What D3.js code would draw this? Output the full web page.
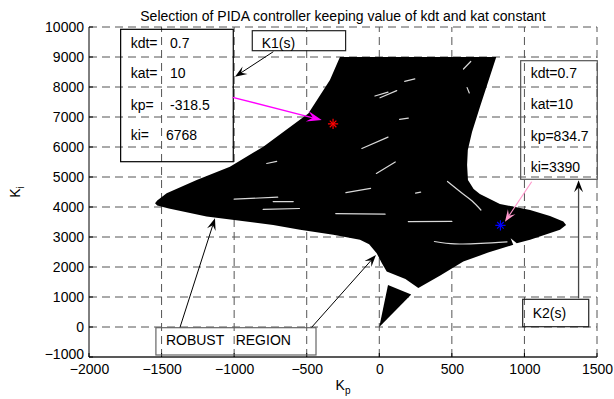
<!DOCTYPE html>
<html><head><meta charset="utf-8">
<script src="https://cdn.jsdelivr.net/npm/d3@7"></script>
<style>
body{margin:0;background:#fff}
svg{display:block}
text{font-family:Arial,"Liberation Sans",sans-serif;fill:#000}
</style>
</head><body>
<svg id="c" width="614" height="399"></svg>
<script>
// ---------- data ----------
const titleText = "Selection of PIDA controller keeping value of kdt and kat constant";
const xTicks = [-2000,-1500,-1000,-500,0,500,1000,1500];
const yTicks = [-1000,0,1000,2000,3000,4000,5000,6000,7000,8000,9000,10000];

// outline of the robust (Kp, Ki) region
const robustRegion = [
  [-271,9000],[806,9000],[694,7345],[639,6500],[610,5900],[605,5400],[611,4900],
  [650,4600],[693,4436],[831,4103],[1039,3904],[1176,3704],[1268,3514],[1287,3404],
  [1245,3238],[1039,2905],[947,2795],[905,2960],[923,2739],[750,2480],[579,2183],
  [420,1720],[269,1298],[180,1600],[51,1850],[17,2130],[-18,2462],[-70,2760],
  [-133,2905],[-317,3072],[-546,3238],[-731,3404],[-1190,3680],[-1450,3950],
  [-1530,4050],[-1545,4126],[-1530,4220],[-1465,4459],[-1258,4900],[-1029,5344],
  [-799,6010],[-489,7120],[-340,8230]
];
const robustTriangle = [[0,0],[60,1400],[220,1080]];

// white gaps inside the region
const whiteStreaks = [
  [[5,7640],[120,7880]],
  [[-120,5950],[60,6330]],
  [[-20,5120],[110,5500]],
  [[-230,4480],[-60,4620]],
  [[-776,5450],[-707,5520]],
  [[-1000,4260],[-700,4330]],
  [[580,8600],[630,8850]],
  [[605,7980],[620,7800]],
  [[140,6920],[200,6960]],
  [[-30,7700],[60,7830]],
  [[175,8190],[245,8270]],
  [[-300,3780],[40,3760]],
  [[200,3515],[500,3520]],
  [[470,4850],[560,4500],[640,4200],[700,3900]],
  [[880,2840],[700,2790],[520,2770],[380,2850]],
  [[-731,4180],[-593,4180]],
  [[250,4460],[285,4495]],
  [[-800,3920],[-550,3950]]
];

const k1Point = [-318.5, 6768];
const k2Point = [834.7, 3390];

const k1Labels = ["kdt=","kat=","kp=","ki="];
const k1Values = ["0.7","10","-318.5","6768"];
const k2Labels = ["kdt=0.7","kat=10","kp=834.7","ki=3390"];
const rowKi1 = [9457,8457,7400,6400];
const rowKi2 = [8457,7423,6367,5343];

// annotation boxes [kp0, ki0, kp1, ki1]
const boxK1Info = [-1782,9923,-1006,5510];
const boxK1Name = [-875,9877,-232,9210];
const boxK2Info = [974,8877,1502,4923];
const boxK2Name = [988,923,1443,10];
const boxRobust = [-1539,-23,-436,-933];

// annotation arrows [kpFrom, kiFrom, kpTo, kiTo]
const arrowK1Name = [-730,9177,-994,8343];
const arrowK1Info = [-1010,7657,-397,6900];
const arrowK2Info = [1050,4843,866,3510];
const arrowK2Name = [1373,957,1373,4890];
const arrowRobustL = [-1373,-10,-1132,3623];
const arrowRobustR = [-466,-10,-23,2400];

// ---------- drawing ----------
const svg = d3.select("#c");
const x = d3.scaleLinear().domain([-2000,1500]).range([89,597]);
const y = d3.scaleLinear().domain([-1000,10000]).range([357,27]);
const FS = 14;

// grid
const grid = svg.append("g").attr("stroke","#555").attr("stroke-width",1).attr("stroke-dasharray","8,5");
grid.selectAll("line.v").data(xTicks.slice(1)).join("line")
  .attr("x1",d=>x(d)).attr("x2",d=>x(d)).attr("y1",y(-1000)).attr("y2",y(10000));
grid.selectAll("line.h").data(yTicks.slice(1)).join("line")
  .attr("x1",x(-2000)).attr("x2",x(1500)).attr("y1",d=>y(d)).attr("y2",d=>y(d));

// region
const line = d3.line().x(d=>x(d[0])).y(d=>y(d[1]));
svg.append("path").attr("d",line(robustRegion)+"Z").attr("fill","#000");
svg.append("path").attr("d",line(robustTriangle)+"Z").attr("fill","#000");
const sline = d3.line().x(d=>x(d[0])).y(d=>y(d[1])).curve(d3.curveCatmullRom);
svg.append("g").selectAll("path").data(whiteStreaks).join("path")
  .attr("d",d=>sline(d)).attr("fill","none")
  .attr("stroke","#fff").attr("stroke-width",1.2).attr("stroke-opacity",0.85).attr("stroke-linecap","round");

// axes
svg.append("line").attr("x1",x(-2000)).attr("x2",x(-2000)).attr("y1",y(-1000)).attr("y2",y(10000)).attr("stroke","#000");
svg.append("line").attr("x1",x(-2000)).attr("x2",x(1500)).attr("y1",y(-1000)).attr("y2",y(-1000)).attr("stroke","#222").attr("stroke-width",1.3);
const ax = svg.append("g").attr("transform",`translate(0,${y(-1000)})`)
  .call(d3.axisBottom(x).tickValues(xTicks).tickSize(0).tickPadding(7).tickFormat(d3.format("d")));
const ay = svg.append("g").attr("transform",`translate(${x(-2000)},0)`)
  .call(d3.axisLeft(y).tickValues(yTicks).tickSize(0).tickPadding(5).tickFormat(d3.format("d")));
[ax,ay].forEach(g=>{g.select(".domain").remove();g.selectAll("text").attr("font-size",FS).attr("font-family",'Arial,"Liberation Sans",sans-serif').attr("fill","#000");});
ay.selectAll("text").filter(d=>d===-1000).attr("dy","0.1em");
// inward ticks
svg.append("g").selectAll("line").data(xTicks).join("line")
  .attr("x1",d=>x(d)).attr("x2",d=>x(d)).attr("y1",y(-1000)).attr("y2",y(-1000)-4).attr("stroke","#000");
svg.append("g").selectAll("line").data(yTicks).join("line")
  .attr("x1",x(-2000)).attr("x2",x(-2000)+4).attr("y1",d=>y(d)).attr("y2",d=>y(d)).attr("stroke","#000");

// title and axis labels
svg.append("text").attr("x",(x(-2000)+x(1500))/2).attr("y",21).attr("text-anchor","middle").attr("font-size",FS).text(titleText);
const xl = svg.append("text").attr("x",(x(-2000)+x(1500))/2).attr("y",390).attr("text-anchor","middle").attr("font-size",FS);
xl.append("tspan").text("K");
xl.append("tspan").attr("font-size",10).attr("dy",4).text("p");
const yl = svg.append("text").attr("transform",`translate(20,${(y(-1000)+y(10000))/2}) rotate(-90)`).attr("text-anchor","middle").attr("font-size",FS);
yl.append("tspan").text("K");
yl.append("tspan").attr("font-size",10).attr("dy",4).text("i");

// boxes
function box(b,color){
  svg.append("rect").attr("x",x(b[0])).attr("y",y(b[1])).attr("width",x(b[2])-x(b[0])).attr("height",y(b[3])-y(b[1]))
    .attr("fill","none").attr("stroke",color).attr("stroke-width",1.2);
}
box(boxK1Info,"#000");
box(boxK1Name,"#222");
box(boxK2Info,"#555");
box(boxK2Name,"#222");
box(boxRobust,"#666");

// texts
const tg = svg.append("g").attr("font-size",FS);
k1Labels.forEach((t,i)=>{
  tg.append("text").attr("x",x(-1713)).attr("y",y(rowKi1[i])+5).attr("font-size",FS).text(t);
  tg.append("text").attr("x",x(i===3?-1470:-1442)).attr("y",y(rowKi1[i])+5).attr("font-size",FS).text(k1Values[i]);
});
k2Labels.forEach((t,i)=>{
  tg.append("text").attr("x",x(1043)).attr("y",y(rowKi2[i])+5).attr("font-size",FS).text(t);
});
tg.append("text").attr("x",x(-810)).attr("y",y(9457)+5).attr("font-size",FS).text("K1(s)");
tg.append("text").attr("x",x(1057)).attr("y",y(457)+5).attr("font-size",FS).text("K2(s)");
tg.append("text").attr("x",x(-1470)).attr("y",y(-433)+5).attr("font-size",FS).style("white-space","pre").text("ROBUST   REGION");

// arrows
function arrow(a,lineColor,headColor,L,W,sw){
  const x1=x(a[0]),y1=y(a[1]),x2=x(a[2]),y2=y(a[3]);
  const ang=Math.atan2(y2-y1,x2-x1),ux=Math.cos(ang),uy=Math.sin(ang),nx=-uy,ny=ux;
  svg.append("line").attr("x1",x1).attr("y1",y1).attr("x2",x2-ux*L*0.6).attr("y2",y2-uy*L*0.6)
    .attr("stroke",lineColor).attr("stroke-width",sw);
  const pts=[[x2,y2],[x2-ux*L+nx*W,y2-uy*L+ny*W],[x2-ux*L*0.6,y2-uy*L*0.6],[x2-ux*L-nx*W,y2-uy*L-ny*W]];
  svg.append("path").attr("d","M"+pts.map(p=>p.join(",")).join("L")+"Z").attr("fill",headColor);
}
arrow(arrowK1Name,"#000","#000",12,4.5,1);
arrow(arrowK1Info,"#ff00ff","#ff00ff",15,5.5,1.3);
arrow(arrowK2Info,"#ff99cc","#ff99cc",12,4.5,1.2);
arrow(arrowK2Name,"#444","#000",12,4.5,1.3);
arrow(arrowRobustL,"#000","#000",12,4.5,1);
arrow(arrowRobustR,"#000","#000",12,4.5,1);

// markers (MATLAB '*' = plus + times)
const symPlus = d3.symbol().type(d3.symbolPlus || d3.symbolCross).size(36);
const symTimes = d3.symbol().type(d3.symbolTimes || d3.symbolCross).size(30);
[[k1Point,"#ff0000"],[k2Point,"#0000ff"]].forEach(([p,c])=>{
  svg.append("path").attr("d",symPlus()).attr("transform",`translate(${x(p[0])},${y(p[1])})`).attr("fill","none").attr("stroke",c).attr("stroke-width",1.2);
  svg.append("path").attr("d",symTimes()).attr("transform",`translate(${x(p[0])},${y(p[1])})`).attr("fill","none").attr("stroke",c).attr("stroke-width",1.2);
});
</script>
</body></html>
